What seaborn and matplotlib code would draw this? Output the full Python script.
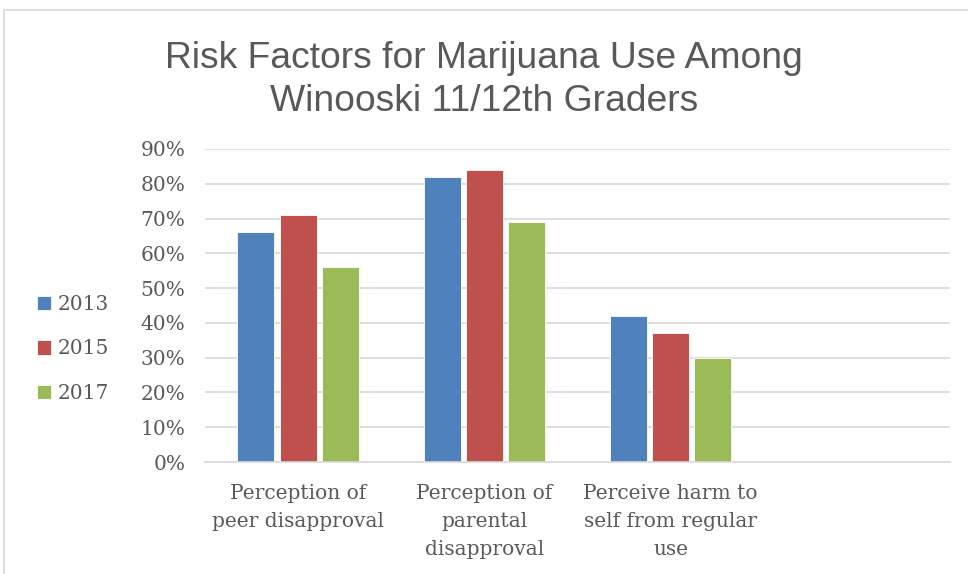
import matplotlib
matplotlib.use("Agg")
import matplotlib.pyplot as plt
import seaborn as sns
import pandas as pd
from matplotlib.patches import Rectangle
from matplotlib.ticker import PercentFormatter

categories = ["Perception of\npeer disapproval", "Perception of\nparental\ndisapproval",
              "Perceive harm to\nself from regular\nuse", ""]
years = ["2013", "2015", "2017"]
v2013 = [0.66, 0.82, 0.42]
v2015 = [0.71, 0.84, 0.37]
v2017 = [0.56, 0.69, 0.30]
colors = ["#4F81BD", "#C0504D", "#9BBB59"]

rows = []
for yr, vals in zip(years, [v2013, v2015, v2017]):
    for c, v in zip(categories[:3], vals):
        rows.append({"cat": c, "year": yr, "val": v})
df = pd.DataFrame(rows)

sns.set_theme(style="white")
serif = ["DejaVu Serif", "Liberation Serif"]
plt.rcParams["font.family"] = serif

fig = plt.figure(figsize=(9.68, 5.74), dpi=100)
ax = fig.add_axes([205/968, 1-462/574, (950-205)/968, (462-149)/574])

sns.barplot(data=df, x="cat", y="val", hue="year", order=categories, hue_order=years,
            palette=colors, width=0.68, gap=0.12, ax=ax, saturation=1,
            edgecolor="white", linewidth=0.6)

ax.set_ylim(0, 0.9)
ax.set_xlim(-0.5, 3.5)
ax.set_yticks([i/10 for i in range(10)])
ax.yaxis.set_major_formatter(PercentFormatter(1.0, decimals=0))
ax.grid(axis="y", color="#d9d9d9", linewidth=1.2)
ax.set_axisbelow(True)
for s in ["top", "right", "left"]:
    ax.spines[s].set_visible(False)
ax.spines["bottom"].set_color("#d9d9d9")
ax.spines["bottom"].set_linewidth(1.2)
ax.set_xlabel("")
ax.set_ylabel("")
ax.tick_params(axis="both", length=0, labelsize=14.5, colors="#595959")
ax.tick_params(axis="y", pad=14)
ax.tick_params(axis="x", pad=16)
for lbl in ax.get_xticklabels():
    lbl.set_linespacing(1.6)

leg = ax.legend(loc="center left", bbox_to_anchor=(0.030, 1-349/574),
                bbox_transform=fig.transFigure, frameon=False,
                fontsize=14.5, handlelength=0.7, handleheight=0.7,
                handletextpad=0.3, labelspacing=1.25, borderaxespad=0)
for t in leg.get_texts():
    t.set_color("#595959")

fig.text(0.5, 1-80/574, "Risk Factors for Marijuana Use Among\nWinooski 11/12th Graders",
         ha="center", va="center", fontsize=26.8, color="#595959",
         family=["Liberation Sans", "DejaVu Sans"], linespacing=1.33)

fig.patches.append(Rectangle((4/968, -0.1), 1.2, 1-10/574+0.1, transform=fig.transFigure,
                             fill=False, edgecolor="#d9d9d9", linewidth=1.2))

fig.savefig("out.png", dpi=100)
